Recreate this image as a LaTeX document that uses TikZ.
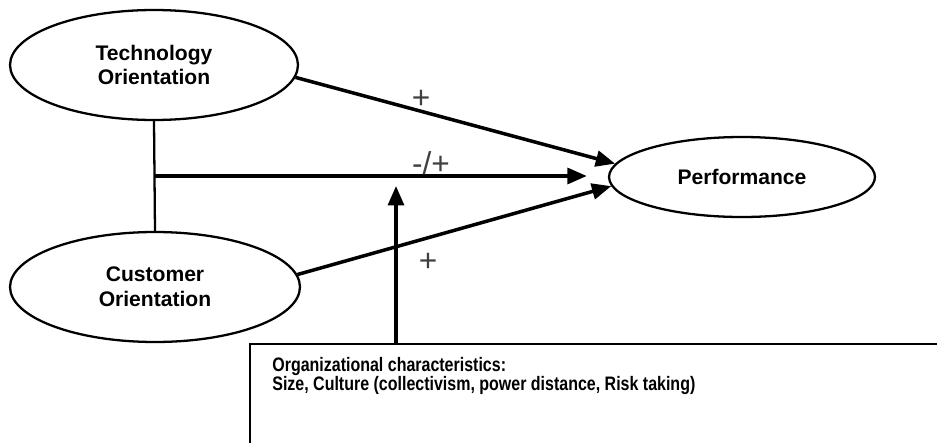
\documentclass[tikz,border=0pt]{standalone}
\usepackage{fontspec}
\setmainfont{Liberation Sans}
\newfontfamily\narrowfont[FakeStretch=0.82]{Liberation Sans}
\usetikzlibrary{shapes.geometric,arrows.meta,calc}
\begin{document}
\begin{tikzpicture}[x=0.02cm,y=-0.02cm,
  ovalstyle/.style={ellipse,draw,line width=1.3pt,inner sep=0pt,align=center,font=\fontsize{12}{14}\selectfont\bfseries},
  arrowstyle/.style={line width=2pt,-{Triangle[length=11pt,width=9pt]}},
  signstyle/.style={inner sep=0pt,text=black!75,font=\fontsize{18}{18}\selectfont},
  boxstyle/.style={draw,line width=1.1pt,inner sep=0pt,anchor=north west}]
\useasboundingbox (0,0) rectangle (937,443);
\clip (0,0) rectangle (937,443);
% constructs
\node[ovalstyle,minimum width=5.76cm,minimum height=2.2cm](tech) at (154,65){Technology\\Orientation};
\node[ovalstyle,minimum width=5.8cm,minimum height=2.2cm](cust) at (155,287){Customer\\Orientation};
\node[ovalstyle,minimum width=5.32cm,minimum height=1.6cm](perf) at (742,177){Performance};
% moderator box
\node[boxstyle,minimum width=14.4cm,minimum height=2.8cm](orgbox) at (249,343){};
\node[anchor=north west,align=left,inner sep=0pt,font=\narrowfont\bfseries\fontsize{11.1}{11}\selectfont](orgtext) at (272,357){Organizational characteristics:\\Size, Culture (collectivism, power distance, Risk taking)};
\coordinate (mid) at ($(tech.south)!0.5!(cust.north)$);
\coordinate (modtip) at (396,186);
% links
\draw[line width=1.3pt] (tech.south) -- (cust.north);
\draw[arrowstyle] (tech.-5) -- (perf.174);
\draw[arrowstyle] (cust.5) -- (perf.184);
\draw[arrowstyle,shorten >=12pt] (mid) -- (mid -| perf.west);
\draw[arrowstyle] (orgbox.north west -| modtip) -- (modtip);
% signs
\node[signstyle](signtop) at (421,99){+};
\node[signstyle](signmid) at (431,163){-/+};
\node[signstyle](signbot) at (428,262){+};
\end{tikzpicture}
\end{document}
